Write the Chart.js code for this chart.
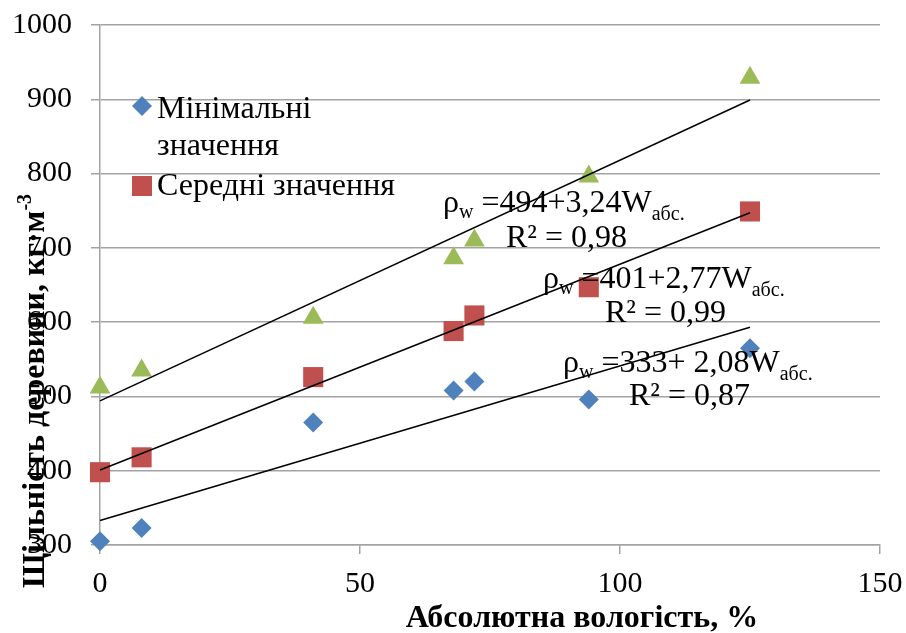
<!DOCTYPE html>
<html>
<head>
<meta charset="utf-8">
<script src="https://cdn.jsdelivr.net/npm/chart.js@4"></script>
<style>
  html, body { margin: 0; padding: 0; background: #fff; }
  #wrap { width: 906px; height: 633px; }
</style>
</head>
<body>
<div id="wrap"><canvas id="chart" width="906" height="633"></canvas></div>
<script>
// moisture content (%) and density values
const moisture = [0, 8, 41, 68, 72, 94, 125];
const minValues = [305, 323, 465, 508, 520, 496, 565];
const meanValues = [398, 418, 526, 588, 609, 647, 749];
const maxValues = [512, 535, 606, 686, 710, 796, 929];

const xTicks = [0, 50, 100, 150];
const yTicks = [300, 400, 500, 600, 700, 800, 900, 1000];

const seriesNames = ['Мінімальні значення', 'Середні значення', 'Максимальні значення'];
const seriesColors = ['#4F81BD', '#C0504D', '#9BBB59'];

// linear trends: rho = a + b*W
const trendA = [333, 401, 494];
const trendB = [2.08, 2.77, 3.24];
const trendText = ['=333+ 2,08W', '=401+2,77W', '=494+3,24W'];
const trendR2 = ['R² = 0,87', 'R² = 0,99', 'R² = 0,98'];

const xTitle = 'Абсолютна вологість, %';
const yTitle = 'Щільність деревини, кг·м';

const SERIF = '"Liberation Serif", "Times New Roman", serif';

const xMin = Math.min(...moisture);
const xMax = Math.max(...moisture);
const trendData = trendA.map((a, i) => [
  { x: xMin, y: a + trendB[i] * xMin },
  { x: xMax, y: a + trendB[i] * xMax }
]);

const toPoints = vals => moisture.map((x, i) => ({ x: x, y: vals[i] }));

// draw a row of text pieces (normal / subscript / superscript)
function drawRuns(ctx, runs, x, y, align) {
  ctx.save();
  ctx.textBaseline = 'alphabetic';
  ctx.textAlign = 'left';
  let total = 0;
  runs.forEach(r => {
    ctx.font = (r.bold ? 'bold ' : '') + r.size + 'px ' + SERIF;
    r.w = ctx.measureText(r.t).width;
    total += r.w;
  });
  let cx = align === 'center' ? x - total / 2 : x;
  runs.forEach(r => {
    ctx.font = (r.bold ? 'bold ' : '') + r.size + 'px ' + SERIF;
    ctx.fillStyle = '#000';
    ctx.fillText(r.t, cx, y + (r.dy || 0));
    cx += r.w;
  });
  ctx.restore();
}

const labelsPlugin = {
  id: 'labels',
  afterDraw(chart) {
    const ctx = chart.ctx;

    // legend inside plot area
    ctx.save();
    ctx.fillStyle = seriesColors[0];
    ctx.beginPath();
    ctx.moveTo(142, 96); ctx.lineTo(152, 106); ctx.lineTo(142, 116); ctx.lineTo(132, 106);
    ctx.closePath(); ctx.fill();
    ctx.fillStyle = seriesColors[1];
    ctx.fillRect(132, 176, 20, 20);
    ctx.restore();
    const words = seriesNames[0].split(' ');
    drawRuns(ctx, [{ t: words[0], size: 32 }], 157, 118);
    drawRuns(ctx, [{ t: words[1], size: 32 }], 157, 155);
    drawRuns(ctx, [{ t: seriesNames[1], size: 32 }], 157, 195);

    // trend equations
    const eqPos = [[563, 372, 629, 405], [543, 288, 605, 322], [443, 212, 506, 247]];
    eqPos.forEach((p, i) => {
      drawRuns(ctx, [
        { t: 'ρ', size: 32 },
        { t: 'w', size: 20, dy: 6 },
        { t: ' ' + trendText[i], size: 32 },
        { t: 'абс.', size: 20, dy: 8 }
      ], p[0], p[1]);
      drawRuns(ctx, [{ t: trendR2[i], size: 32 }], p[2], p[3]);
    });

    // axis titles
    drawRuns(ctx, [{ t: xTitle, size: 32, bold: true }], 582, 627, 'center');
    ctx.save();
    ctx.translate(44, 391);
    ctx.rotate(-Math.PI / 2);
    drawRuns(ctx, [
      { t: yTitle, size: 32, bold: true },
      { t: '-3', size: 20, bold: true, dy: -13 }
    ], 0, 0, 'center');
    ctx.restore();
  }
};

const gridColor = '#a3a3a3';

new Chart(document.getElementById('chart'), {
  type: 'scatter',
  data: {
    datasets: [
      ...trendData.map(d => ({
        type: 'line',
        data: d,
        borderColor: '#000',
        borderWidth: 1.5,
        pointRadius: 0,
        fill: false,
        clip: false,
        order: 0
      })),
      {
        label: seriesNames[0],
        data: toPoints(minValues),
        pointStyle: 'rectRot',
        pointRadius: 10,
        backgroundColor: seriesColors[0],
        borderWidth: 0,
        clip: false,
        order: 1
      },
      {
        label: seriesNames[1],
        data: toPoints(meanValues),
        pointStyle: 'rect',
        pointRadius: 14.2,
        backgroundColor: seriesColors[1],
        borderWidth: 0,
        clip: false,
        order: 1
      },
      {
        label: seriesNames[2],
        data: toPoints(maxValues),
        pointStyle: 'triangle',
        pointRadius: 12,
        backgroundColor: seriesColors[2],
        borderWidth: 0,
        clip: false,
        order: 1
      }
    ]
  },
  options: {
    responsive: false,
    animation: false,
    devicePixelRatio: 1,
    layout: { padding: { top: 25, right: 26, left: 0, bottom: 0 } },
    plugins: {
      legend: { display: false },
      tooltip: { enabled: false }
    },
    scales: {
      x: {
        type: 'linear',
        min: xTicks[0],
        max: xTicks[xTicks.length - 1],
        afterBuildTicks: s => { s.ticks = xTicks.map(v => ({ value: v })); },
        afterFit: s => { s.height = 88; s.paddingLeft = 0; s.paddingRight = 0; },
        grid: { drawOnChartArea: false, drawTicks: true, tickLength: 9, color: gridColor, lineWidth: 1.5 },
        border: { color: gridColor, width: 1.5 },
        ticks: { color: '#000', padding: 12, font: { family: SERIF, size: 30 }, callback: v => String(v) }
      },
      y: {
        type: 'linear',
        min: yTicks[0],
        max: yTicks[yTicks.length - 1],
        afterBuildTicks: s => { s.ticks = yTicks.map(v => ({ value: v })); },
        afterFit: s => { s.width = 100; s.paddingTop = 0; s.paddingBottom = 0; },
        grid: { color: gridColor, lineWidth: 1.5, tickLength: 9 },
        border: { color: gridColor, width: 1.5 },
        ticks: { color: '#000', padding: 19, font: { family: SERIF, size: 30 }, callback: v => String(v) }
      }
    }
  },
  plugins: [labelsPlugin]
});
</script>
</body>
</html>
